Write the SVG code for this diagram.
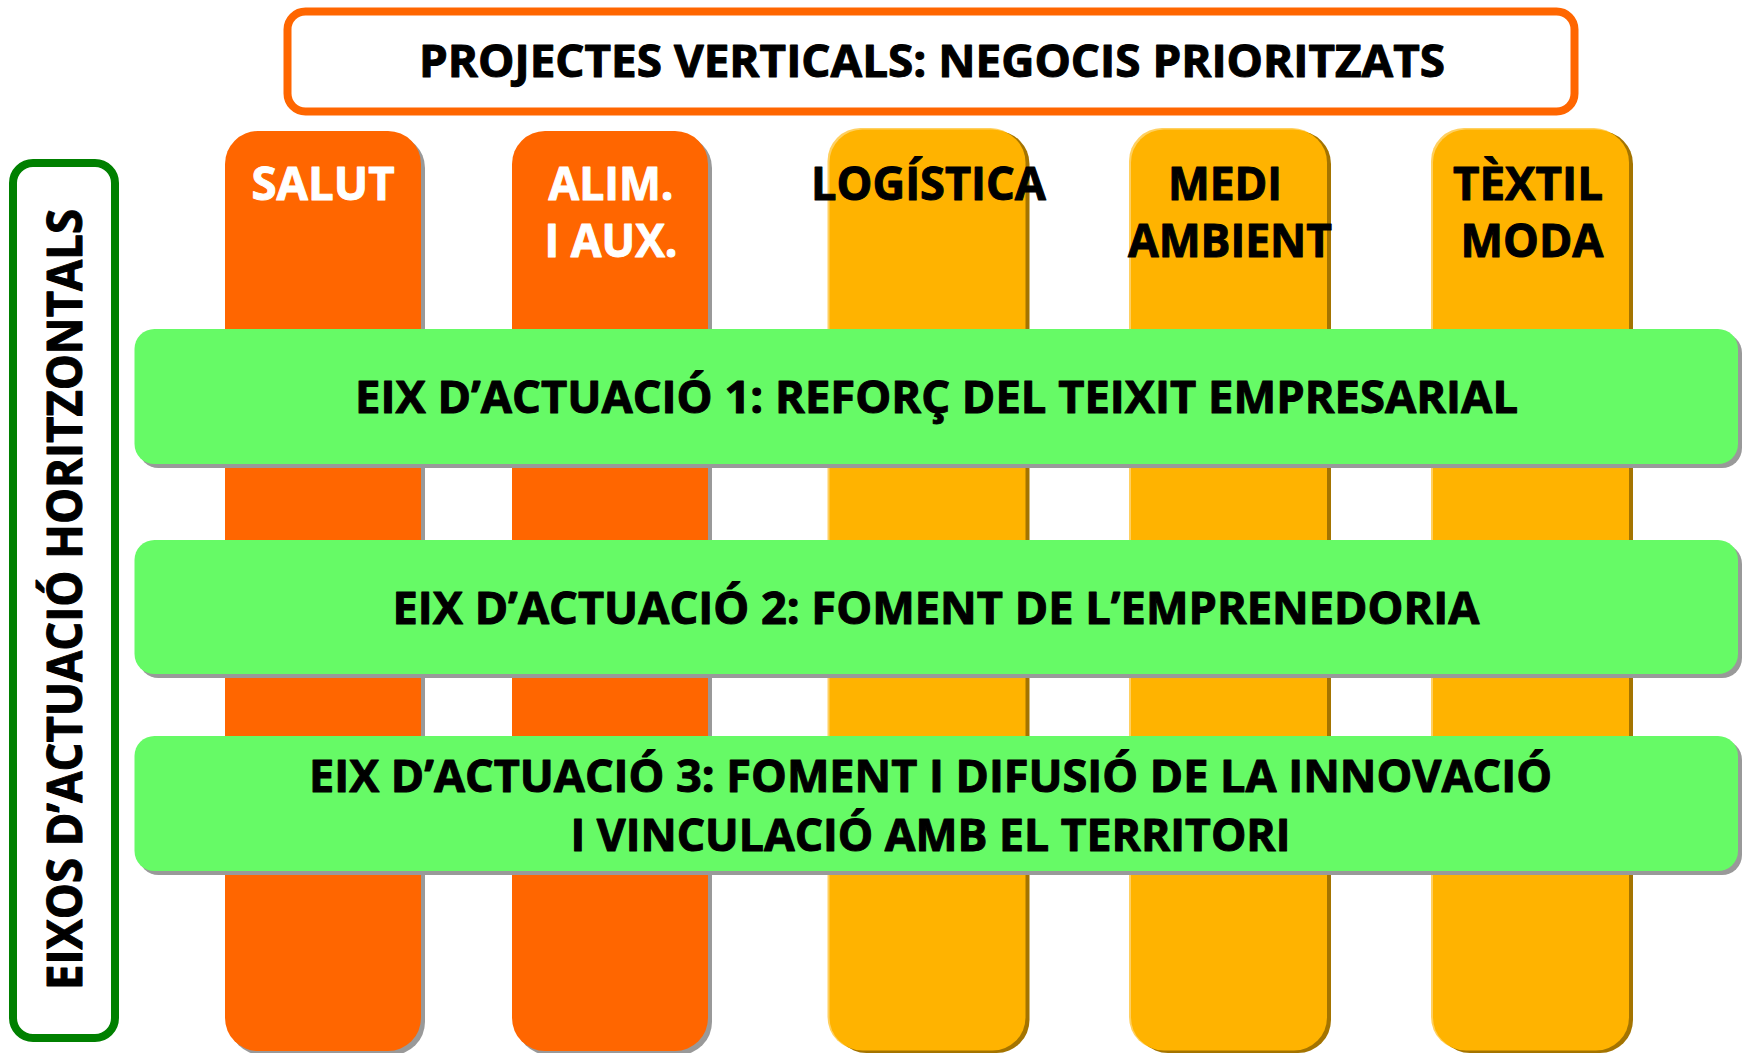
<svg xmlns="http://www.w3.org/2000/svg" width="1743" height="1053" viewBox="0 0 1743 1053">
<style>
  .t { font-family: "Open Sans", "Liberation Sans", sans-serif; font-weight: 700; text-anchor: middle; stroke-width: 1px; stroke-linejoin: round; }
  .big { font-size: 45px; fill: #000; stroke: #000; }
  .col { font-size: 46px; }
  .white { fill: #FFFFFF; stroke: #FFFFFF; }
  .black { fill: #000000; stroke: #000000; }
  .orange { fill: #FF6600; }
  .yellow { fill: #FFB300; }
  .ylight { fill: #FFD060; }
  .ydark { fill: #A47400; }
  .shadow { fill: #999999; }
  .band { fill: #66FA66; }
</style>
<rect x="0" y="0" width="1743" height="1053" fill="#FFFFFF"/>

<g id="title">
  <rect x="287.5" y="11.5" width="1287" height="100" rx="18" fill="#FFFFFF" stroke="#FF6600" stroke-width="8"/>
  <text class="t big" x="932" y="77" textLength="1026" lengthAdjust="spacingAndGlyphs">PROJECTES VERTICALS: NEGOCIS PRIORITZATS</text>
</g>

<g id="axis-label">
  <rect x="13" y="163" width="102" height="875" rx="20" fill="#FFFFFF" stroke="#008000" stroke-width="8"/>
  <text class="t black" style="font-size:48px" transform="translate(81.5,599.5) rotate(-90)" x="0" y="0" textLength="781" lengthAdjust="spacingAndGlyphs">EIXOS D’ACTUACIÓ HORITZONTALS</text>
</g>

<g id="col-salut">
  <rect class="shadow" x="229" y="135" width="196" height="920" rx="33"/>
  <rect class="orange" x="225" y="131" width="196" height="920" rx="33"/>
  <text class="t col white" x="323" y="200" textLength="143" lengthAdjust="spacingAndGlyphs">SALUT</text>
</g>

<g id="col-alim">
  <rect class="shadow" x="516" y="135" width="196" height="920" rx="33"/>
  <rect class="orange" x="512" y="131" width="196" height="920" rx="33"/>
  <text class="t col white" x="611" y="200" textLength="125" lengthAdjust="spacingAndGlyphs">ALIM.</text>
  <text class="t col white" x="611" y="257" textLength="133" lengthAdjust="spacingAndGlyphs">I AUX.</text>
</g>

<g id="col-logistica">
  <rect class="ylight" x="827.5" y="128" width="196" height="922" rx="33"/>
  <rect class="ydark" x="833.5" y="131" width="196" height="922" rx="33"/>
  <rect class="yellow" x="829.5" y="129.5" width="196" height="921" rx="33"/>
  <text class="t col black" x="928.5" y="200" textLength="235" lengthAdjust="spacingAndGlyphs">LOGÍSTICA</text>
</g>

<g id="col-medi">
  <rect class="ylight" x="1129" y="128" width="196" height="922" rx="33"/>
  <rect class="ydark" x="1135" y="131" width="196" height="922" rx="33"/>
  <rect class="yellow" x="1131" y="129.5" width="196" height="921" rx="33"/>
  <text class="t col black" x="1225" y="200" textLength="114" lengthAdjust="spacingAndGlyphs">MEDI</text>
  <text class="t col black" x="1230" y="257" textLength="204" lengthAdjust="spacingAndGlyphs">AMBIENT</text>
</g>

<g id="col-textil">
  <rect class="ylight" x="1431" y="128" width="196" height="922" rx="33"/>
  <rect class="ydark" x="1437" y="131" width="196" height="922" rx="33"/>
  <rect class="yellow" x="1433" y="129.5" width="196" height="921" rx="33"/>
  <text class="t col black" x="1528" y="200" textLength="150" lengthAdjust="spacingAndGlyphs">TÈXTIL</text>
  <text class="t col black" x="1532" y="257" textLength="143" lengthAdjust="spacingAndGlyphs">MODA</text>
</g>

<g id="band-1">
  <rect class="shadow" x="138.5" y="333" width="1603.5" height="135" rx="20"/>
  <rect class="band" x="134.5" y="329" width="1603.5" height="135" rx="20"/>
  <text class="t big" x="936.5" y="412.5" textLength="1163" lengthAdjust="spacingAndGlyphs">EIX D’ACTUACIÓ 1: REFORÇ DEL TEIXIT EMPRESARIAL</text>
</g>

<g id="band-2">
  <rect class="shadow" x="138.5" y="544" width="1603.5" height="134" rx="20"/>
  <rect class="band" x="134.5" y="540" width="1603.5" height="134" rx="20"/>
  <text class="t big" x="936" y="623.5" textLength="1087" lengthAdjust="spacingAndGlyphs">EIX D’ACTUACIÓ 2: FOMENT DE L’EMPRENEDORIA</text>
</g>

<g id="band-3">
  <rect class="shadow" x="138.5" y="740" width="1603.5" height="135" rx="20"/>
  <rect class="band" x="134.5" y="736" width="1603.5" height="135" rx="20"/>
  <text class="t big" x="930.5" y="791.5" textLength="1243" lengthAdjust="spacingAndGlyphs">EIX D’ACTUACIÓ 3: FOMENT I DIFUSIÓ DE LA INNOVACIÓ</text>
  <text class="t big" x="930.5" y="850.5" textLength="720" lengthAdjust="spacingAndGlyphs">I VINCULACIÓ AMB EL TERRITORI</text>
</g>

<g id="connectors"></g>
</svg>
